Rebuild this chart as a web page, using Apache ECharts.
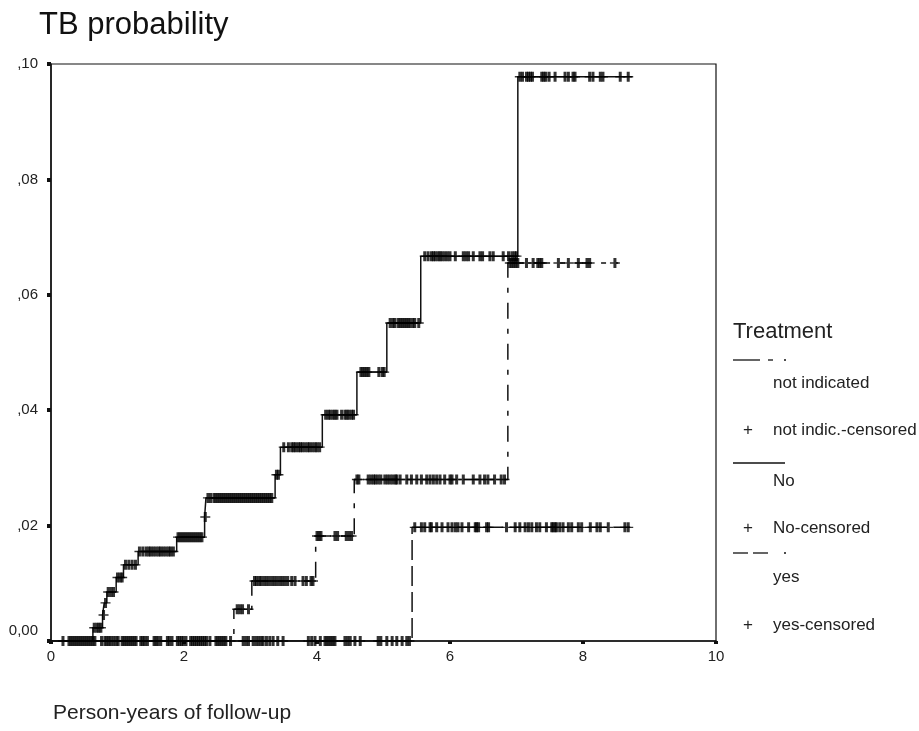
<!DOCTYPE html>
<html><head><meta charset="utf-8">
<script src="https://cdn.jsdelivr.net/npm/echarts@6/dist/echarts.min.js"></script>
<style>html,body{margin:0;padding:0;background:#fff}#c{width:919px;height:731px}</style>
</head><body><div id="c"></div>
<script>
// ---- data ----
const xTickLabels = ['0', '2', '4', '6', '8', '10'];
const yTickLabels = ['0,00', ',02', ',04', ',06', ',08', ',10'];

// Treatment = No (solid)
const noTimes = [0, 0.63, 0.775, 0.80, 0.84, 0.98, 1.09, 1.31, 1.89, 2.31, 2.33, 3.37, 3.45, 4.08, 4.60, 5.05, 5.56, 7.02, 8.74];
const noProb  = [0, 0.0023, 0.0045, 0.0066, 0.0085, 0.011, 0.0132, 0.0155, 0.018, 0.0215, 0.0248, 0.0288, 0.0336, 0.0392, 0.0466, 0.0551, 0.0667, 0.0978, 0.0978];
const noCens = [0.65,0.69,0.72,0.75,0.79,0.82,0.86,0.90,0.94,1.00,1.04,1.07,1.12,1.17,1.22,1.27,
  1.33,1.38,1.43,1.47,1.50,1.54,1.58,1.62,1.65,1.69,1.73,1.77,1.80,1.84,
  1.91,1.94,1.97,2.00,2.03,2.06,2.09,2.12,2.15,2.18,2.21,2.24,2.27,2.32,
  2.36,2.40,2.45,2.48,2.51,2.54,2.57,2.60,2.63,2.66,2.69,2.72,2.75,2.78,2.81,2.84,2.87,2.90,2.93,2.96,2.99,3.02,3.05,3.08,3.11,3.14,3.17,3.20,3.23,3.26,3.29,3.32,
  3.39,3.42,3.50,3.57,3.62,3.65,3.68,3.72,3.75,3.78,3.82,3.86,3.89,3.93,3.97,4.00,4.04,
  4.13,4.17,4.20,4.24,4.27,4.30,4.37,4.42,4.45,4.48,4.52,4.55,
  4.66,4.69,4.72,4.75,4.78,4.93,4.98,5.01,
  5.10,5.14,5.17,5.22,5.25,5.28,5.31,5.34,5.37,5.40,5.44,5.47,5.53,
  5.62,5.67,5.72,5.75,5.78,5.82,5.85,5.88,5.92,5.96,6.00,6.08,6.20,6.24,6.28,6.35,6.45,6.49,6.60,6.65,6.80,6.88,6.93,6.97,7.00,
  7.05,7.09,7.15,7.18,7.21,7.24,7.38,7.41,7.44,7.49,7.58,7.73,7.78,7.85,7.88,8.10,8.15,8.26,8.30,8.56,8.68];

// Treatment = not indicated (dash-dot)
const notIndTimes = [0, 2.75, 3.02, 3.98, 4.56, 6.87, 8.53];
const notIndProb  = [0, 0.0055, 0.0104, 0.0182, 0.0280, 0.0655, 0.0655];
const notIndCens = [0.18,0.27,0.30,0.33,0.36,0.39,0.42,0.45,0.48,0.51,0.54,0.57,0.60,0.63,0.66,
  0.76,0.81,0.84,0.87,0.90,0.94,0.98,1.01,1.07,1.10,1.13,1.16,1.19,1.22,1.25,1.28,
  1.35,1.38,1.41,1.45,1.55,1.58,1.61,1.65,1.75,1.78,1.82,1.90,1.93,1.96,1.99,2.03,
  2.10,2.13,2.16,2.19,2.22,2.25,2.28,2.31,2.34,2.39,2.48,2.51,2.54,2.57,2.60,2.63,2.70,
  2.80,2.84,2.88,2.97,
  3.06,3.09,3.13,3.16,3.20,3.24,3.28,3.32,3.36,3.40,3.44,3.48,3.52,3.56,3.62,3.67,3.79,3.84,3.91,3.94,
  4.00,4.03,4.06,4.27,4.31,4.44,4.48,4.52,
  4.60,4.63,4.77,4.81,4.85,4.88,4.92,4.96,5.02,5.06,5.10,5.14,5.18,5.20,5.25,5.35,5.42,5.50,5.57,5.65,5.70,5.75,5.80,5.85,5.92,6.00,6.03,6.10,6.20,6.35,6.45,6.52,6.57,6.67,6.77,6.82,
  6.90,6.93,6.96,6.99,7.02,7.15,7.25,7.32,7.35,7.38,7.63,7.78,7.93,8.06,8.10,8.48];

// Treatment = yes (dashed)
const yesTimes = [0, 5.43, 8.71];
const yesProb  = [0, 0.0197, 0.0197];
const yesCens = [2.89,2.93,2.97,3.04,3.08,3.12,3.16,3.19,3.24,3.29,3.34,3.41,3.49,3.87,3.92,3.97,4.05,
  4.12,4.15,4.18,4.21,4.24,4.27,4.42,4.46,4.50,4.57,4.65,4.92,4.96,5.05,5.13,5.20,5.28,5.35,5.39,
  5.47,5.57,5.62,5.70,5.72,5.80,5.88,5.97,6.03,6.08,6.12,6.18,6.28,6.38,6.40,6.43,6.55,6.58,6.85,6.98,
  7.05,7.13,7.18,7.23,7.30,7.35,7.45,7.53,7.55,7.58,7.60,7.65,7.70,7.78,7.83,7.93,7.98,8.11,8.21,8.26,8.38,8.63,8.68];

// ---- build ----
const FONT = 'Arial, "Liberation Sans", Helvetica, sans-serif';
const INK = '#111';
const PLUS = 'path://M3.5,0h3v4.3h3.5v1.4h-3.5v4.3h-3v-4.3h-3.5v-1.4h3.5z';

function pairs(t, p) { return t.map((x, i) => [x, p[i]]); }
function levelAt(t, p, x) { let v = p[0]; for (let i = 0; i < t.length; i++) if (t[i] <= x) v = p[i]; return v; }
function censPts(c, t, p) { return c.map(x => [x, levelAt(t, p, x)]); }

function curve(name, t, p, dash) {
  return { name, type: 'line', step: 'end', symbol: 'none', silent: true, z: 3,
    data: pairs(t, p), lineStyle: { color: INK, width: 1.5, type: dash } };
}
function cens(name, c, t, p) {
  return { name, type: 'scatter', symbol: PLUS, symbolSize: [10, 10], silent: true, z: 4,
    itemStyle: { color: '#000' }, data: censPts(c, t, p) };
}

const chart = echarts.init(document.getElementById('c'), null, { renderer: 'canvas' });

const legendX = 733;
const graphic = [
  { type: 'text', x: 53, y: 713, style: { text: 'Person-years of follow-up', fill: '#222', fontSize: 21, fontFamily: FONT, verticalAlign: 'middle' } },
  { type: 'text', x: legendX, y: 332, style: { text: 'Treatment', fill: '#222', fontSize: 22, fontFamily: FONT, verticalAlign: 'middle' } },
  // not indicated sample (dash-dot)
  { type: 'line', shape: { x1: 733, y1: 360, x2: 760, y2: 360 }, style: { stroke: INK, lineWidth: 1.3 } },
  { type: 'line', shape: { x1: 768, y1: 360, x2: 773, y2: 360 }, style: { stroke: INK, lineWidth: 1.3 } },
  { type: 'line', shape: { x1: 784, y1: 360, x2: 786, y2: 360 }, style: { stroke: INK, lineWidth: 1.3 } },
  { type: 'text', x: 773, y: 383, style: { text: 'not indicated', fill: '#222', fontSize: 17, fontFamily: FONT, verticalAlign: 'middle' } },
  { type: 'text', x: 748, y: 430, style: { text: '+', fill: '#222', fontSize: 17, fontFamily: FONT, verticalAlign: 'middle', align: 'center' } },
  { type: 'text', x: 773, y: 430, style: { text: 'not indic.-censored', fill: '#222', fontSize: 17, fontFamily: FONT, verticalAlign: 'middle' } },
  // No sample (solid)
  { type: 'line', shape: { x1: 733, y1: 463, x2: 785, y2: 463 }, style: { stroke: INK, lineWidth: 1.3 } },
  { type: 'text', x: 773, y: 481, style: { text: 'No', fill: '#222', fontSize: 17, fontFamily: FONT, verticalAlign: 'middle' } },
  { type: 'text', x: 748, y: 528, style: { text: '+', fill: '#222', fontSize: 17, fontFamily: FONT, verticalAlign: 'middle', align: 'center' } },
  { type: 'text', x: 773, y: 528, style: { text: 'No-censored', fill: '#222', fontSize: 17, fontFamily: FONT, verticalAlign: 'middle' } },
  // yes sample (dashed)
  { type: 'line', shape: { x1: 733, y1: 553, x2: 748, y2: 553 }, style: { stroke: INK, lineWidth: 1.3 } },
  { type: 'line', shape: { x1: 753, y1: 553, x2: 768, y2: 553 }, style: { stroke: INK, lineWidth: 1.3 } },
  { type: 'line', shape: { x1: 784, y1: 553, x2: 786, y2: 553 }, style: { stroke: INK, lineWidth: 1.3 } },
  { type: 'text', x: 773, y: 577, style: { text: 'yes', fill: '#222', fontSize: 17, fontFamily: FONT, verticalAlign: 'middle' } },
  { type: 'text', x: 748, y: 625, style: { text: '+', fill: '#222', fontSize: 17, fontFamily: FONT, verticalAlign: 'middle', align: 'center' } },
  { type: 'text', x: 773, y: 625, style: { text: 'yes-censored', fill: '#222', fontSize: 17, fontFamily: FONT, verticalAlign: 'middle' } }
];

chart.setOption({
  backgroundColor: '#fff',
  animation: false,
  title: { text: 'TB probability', left: 34, top: 5,
    textStyle: { fontSize: 31, fontWeight: 'normal', color: '#111', fontFamily: FONT } },
  grid: { left: 51, right: 203, top: 64, bottom: 90, show: true, borderColor: INK, borderWidth: 1.2, backgroundColor: 'transparent' },
  xAxis: {
    type: 'value', min: 0, max: 10, interval: 2,
    axisLine: { show: true, lineStyle: { color: INK, width: 1.5 } },
    axisTick: { show: true, length: 3, lineStyle: { color: INK, width: 4 } },
    splitLine: { show: false },
    axisLabel: { margin: 8, fontSize: 15, color: '#222', fontFamily: FONT,
      formatter: v => xTickLabels[Math.round(v / 2)] }
  },
  yAxis: {
    type: 'value', min: 0, max: 0.1, interval: 0.02,
    axisLine: { show: true, lineStyle: { color: INK, width: 1.5 } },
    axisTick: { show: true, length: 4, lineStyle: { color: INK, width: 4 } },
    splitLine: { show: false },
    axisLabel: { margin: 13, fontSize: 15, color: '#222', fontFamily: FONT,
      formatter: v => { const i = Math.round(v / 0.02); return i === 0 ? '{z|' + yTickLabels[0] + '}' : yTickLabels[i]; },
      rich: { z: { fontSize: 15, color: '#222', fontFamily: FONT, padding: [0, 0, 20, 0] } } }
  },
  series: [
    curve('not indicated', notIndTimes, notIndProb, [16, 10, 5, 10]),
    curve('No', noTimes, noProb, 'solid'),
    curve('yes', yesTimes, yesProb, [20, 6]),
    cens('not indic.-censored', notIndCens, notIndTimes, notIndProb),
    cens('No-censored', noCens, noTimes, noProb),
    cens('yes-censored', yesCens, yesTimes, yesProb)
  ],
  graphic
});
</script>
</body></html>
